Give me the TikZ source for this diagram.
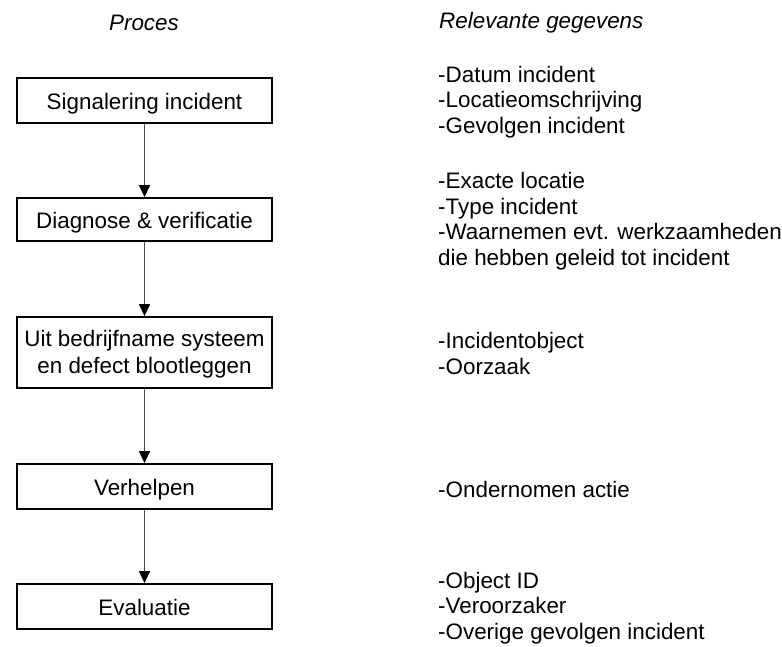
\documentclass[tikz,border=0pt]{standalone}
\usepackage{fontspec}
\setmainfont{Liberation Sans}
\usetikzlibrary{arrows.meta}
\begin{document}
\begin{tikzpicture}[x=1pt,y=-1pt,
  stepbox/.style={draw=black, line width=1.8pt, minimum width=255pt,
    minimum height=45pt, inner sep=0pt, align=center,
    text height=23pt, text depth=5pt,
    font=\fontsize{22.4}{27}\selectfont},
  info/.style={anchor=west, align=left, inner sep=0pt,
    font=\fontsize{22.4}{25.5}\selectfont},
  head/.style={inner sep=0pt, font=\fontsize{22.4}{27}\selectfont\itshape},
  flow/.style={line width=1.3pt, draw=black!70,
    -{Triangle[length=12pt,width=11pt,color=black]}}]
\useasboundingbox (0,0) rectangle (782,646);

% column headings
\node[head] (hproc) at (144,23) {Proces};
\node[head, anchor=west] (hdata) at (439,23) {Relevante gegevens};

% process steps
\node[stepbox] (s1) at (144.5,100.5) {Signalering incident};
\node[stepbox, minimum height=43pt] (s2) at (144.5,219.5) {Diagnose \& verificatie};
\node[stepbox, minimum height=71pt, text height=47pt] (s3) at (144.5,352.5) {Uit bedrijfname systeem\\en defect blootleggen};
\node[stepbox] (s4) at (144.5,486.5) {Verhelpen};
\node[stepbox] (s5) at (144.5,606.5) {Evaluatie};

% data per step
\node[info] (d1) at (438,102) {-Datum incident\\-Locatieomschrijving\\-Gevolgen incident};
\node[info] (d2) at (438,221) {-Exacte locatie\\-Type incident\\-Waarnemen evt. werkzaamheden\\die hebben geleid tot incident};
\node[info] (d3) at (438,353.5) {-Incidentobject\\-Oorzaak};
\node[info] (d4) at (438,489) {-Ondernomen actie};
\node[info] (d5) at (438,608) {-Object ID\\-Veroorzaker\\-Overige gevolgen incident};

% flow between steps
\draw[flow] (s1) -- (s2);
\draw[flow] (s2) -- (s3);
\draw[flow] (s3) -- (s4);
\draw[flow] (s4) -- (s5);
\end{tikzpicture}
\end{document}
